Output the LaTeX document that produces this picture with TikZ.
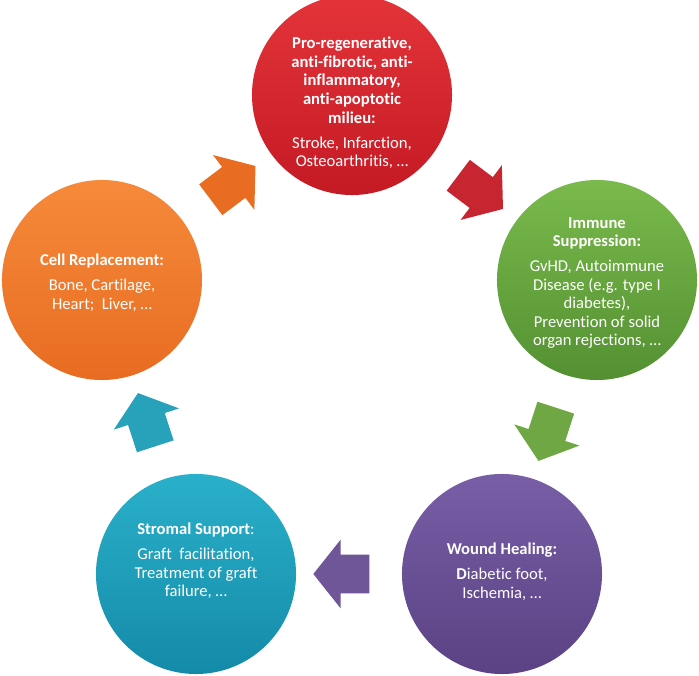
\documentclass[tikz,border=0pt]{standalone}
\usepackage{fontspec}
\setmainfont{Carlito}[Ligatures=NoCommon]
\usetikzlibrary{shapes.arrows,calc}
\definecolor{redtop}{RGB}{228,52,58}
\definecolor{redbot}{RGB}{196,26,36}
\definecolor{greentop}{RGB}{122,186,76}
\definecolor{greenbot}{RGB}{84,144,50}
\definecolor{purpletop}{RGB}{120,94,166}
\definecolor{purplebot}{RGB}{90,66,132}
\definecolor{tealtop}{RGB}{42,176,202}
\definecolor{tealbot}{RGB}{20,138,168}
\definecolor{orangetop}{RGB}{246,138,58}
\definecolor{orangebot}{RGB}{232,108,34}
\begin{document}
\begin{tikzpicture}[x=0.025cm,y=-0.025cm,
    disc/.style={circle,minimum size=5cm,inner sep=0pt},
    caption/.style={text=white,align=center,font=\fontsize{11.8}{13.2}\selectfont},
    blockarrow/.style={single arrow,single arrow head extend=0.375cm,
        single arrow tip angle=103,minimum height=1.4cm,
        inner xsep=0.1cm,inner ysep=0.475cm}]
    \useasboundingbox (0,0) rectangle (699,676);
    % circles
    \node[disc,top color=redtop,bottom color=redbot] (milieu) at (352,95) {};
    \node[disc,top color=greentop,bottom color=greenbot] (immune) at (597,280) {};
    \node[disc,top color=purpletop,bottom color=purplebot] (wound) at (502,574) {};
    \node[disc,top color=tealtop,bottom color=tealbot] (stroma) at (196,574) {};
    \node[disc,top color=orangetop,bottom color=orangebot] (cells) at (102,280) {};
    % arrows
    \node[blockarrow,fill=redbot!95!white,rotate=-37] (milieu-immune) at ($(milieu)!0.5!(immune)$) {};
    \node[blockarrow,fill=greentop!90!black,rotate=-108] (immune-wound) at ($(immune)!0.5!(wound)$) {};
    \node[blockarrow,fill=purpletop!92!black,rotate=180] (wound-stroma) at ($(wound)!0.5!(stroma)$) {};
    \node[blockarrow,fill=tealtop!92!black,rotate=108] (stroma-cells) at ($(stroma)!0.5!(cells)$) {};
    \node[blockarrow,fill=orangebot,rotate=37] (cells-milieu) at ($(cells)!0.5!(milieu)$) {};
    % texts
    \node[caption] (milieutxt) at (352,103) {\textbf{Pro-regenerative,}\\
        \textbf{anti-fibrotic, anti-}\\ \textbf{inflammatory,}\\
        \textbf{anti-apoptotic}\\ \textbf{milieu:}\\[4.6pt]
        Stroke, Infarction,\\ Osteoarthritis, …};
    \node[caption] (immunetxt) at (597,283) {\textbf{Immune}\\
        \textbf{Suppression:}\\[4.6pt]
        GvHD, Autoimmune\\ Disease (e.g. type I\\ diabetes),\\
        Prevention of solid\\ organ rejections, …};
    \node[caption] (woundtxt) at (502,572) {\textbf{Wound Healing:}\\[4.6pt]
        \textbf{D}iabetic foot,\\ Ischemia, …};
    \node[caption] (stromatxt) at (196,561) {\textbf{Stromal Support}:\\[4.6pt]
        Graft~ facilitation,\\ Treatment of graft\\ failure, …};
    \node[caption] (cellstxt) at (102,283) {\textbf{Cell Replacement:}\\[4.6pt]
        Bone, Cartilage,\\ Heart;~ Liver, …};
\end{tikzpicture}
\end{document}
